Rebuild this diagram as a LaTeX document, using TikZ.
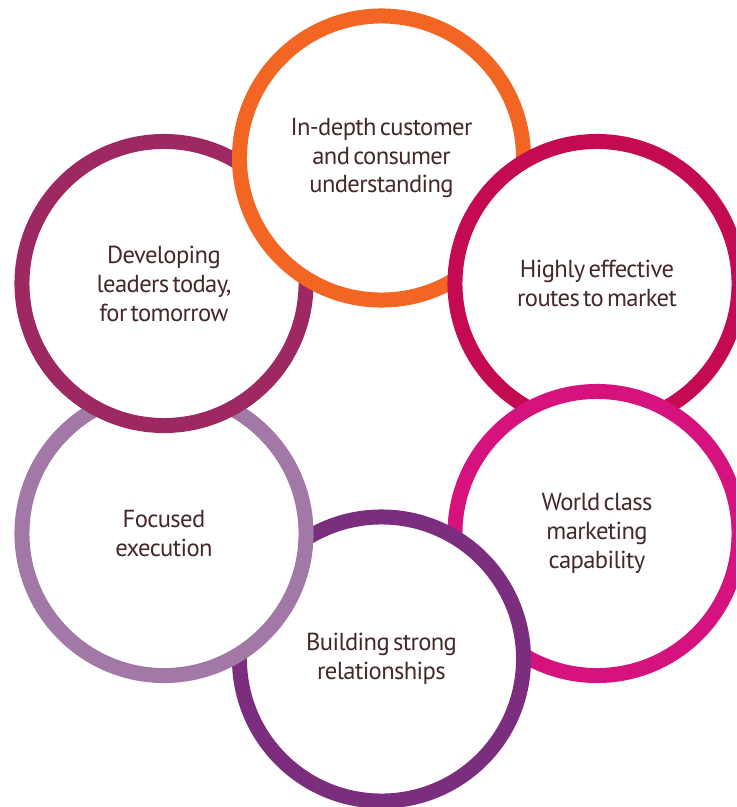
\documentclass[tikz,border=0pt]{standalone}
\usepackage{fontspec}
\setmainfont{PT Sans}[LetterSpace = -2.5, WordSpace = 0.55]
\usepackage{tikz}
\definecolor{corange}{RGB}{242, 101, 34}
\definecolor{ccrimson}{RGB}{196, 10, 80}
\definecolor{cmagenta}{RGB}{214, 18, 126}
\definecolor{cpurple}{RGB}{123, 46, 126}
\definecolor{clilac}{RGB}{162, 120, 166}
\definecolor{cplum}{RGB}{158, 40, 97}
\definecolor{ctext}{RGB}{68, 40, 42}

\begin{document}
\begin{tikzpicture}[x = 0.025cm, y = -0.025cm,
		ring/.style = {circle, fill = white, line width = 0.375cm, minimum size = 7.1cm, inner sep = 0pt,
			align = center, text = ctext, font = \fontsize{17.5}{20.6}\selectfont}]
			\useasboundingbox (0,0) rectangle (736,807);
			\clip (0,0) rectangle (736,807);
			\node (leaders) at (164,283.5) [ring, draw = cplum] {Developing\\leaders today,\\for tomorrow};
			\node (insight) at (381.5,158) [ring, draw = corange] {In-depth customer\\and consumer\\understanding};
			\node (routes) at (597,283.5) [ring, draw = ccrimson] {Highly effective\\routes to market};
			\node (marketing) at (597,533.5) [ring, draw = cmagenta] {World class\\marketing\\capability};
			\node (relations) at (381.5,659) [ring, draw = cpurple] {Building strong\\relationships};
			\node (execution) at (164,533.5) [ring, draw = clilac] {Focused\\execution};
			% lower part of the first ring goes back on top of the last one
			\begin{scope}
				\clip (0,360) rectangle (736,807);
				\draw [line width = 0.375cm, draw = cplum, fill = white] (leaders.center) circle [radius = 3.55cm];
			\end{scope}
			\end{tikzpicture}
\end{document}
